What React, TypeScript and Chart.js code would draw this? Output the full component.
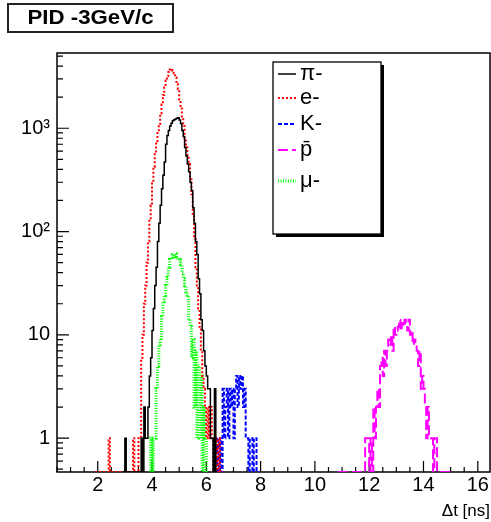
import React, { useEffect, useRef } from 'react';
import { Chart, registerables } from 'chart.js';

Chart.register(...registerables);

// ---------- data ----------
const TITLE = 'PID -3GeV/c';
const X_TITLE = 'Δt [ns]';
const X_MIN = 0.5;
const X_MAX = 16.45;
const Y_MIN = 0.47;
const Y_MAX = 5350;
const X_TICKS = [2, 4, 6, 8, 10, 12, 14, 16];
const Y_TICKS = [1, 10, 100, 1000];
const Y_TICK_LABELS = ['1', '10', '10²', '10³'];
const SERIES_LABELS = ['π-', 'e-', 'K-', 'p\u0304', 'μ-'];

// pi-: bins of 0.05 ns starting at 2.9 ns
const PI_START = 2.9;
const PI_BIN = 0.05;
const PI_RANGE = [2.9, 6.4];
const PI_COUNTS = [0, 0, 1, 0, 0, 0, 0, 0, 0, 0, 0, 0, 0, 0, 1, 0, 2, 1, 1, 2, 4, 6, 11, 18, 30, 45, 80, 120, 180, 260, 350, 470, 700, 850, 950, 1050, 1120, 1180, 1210, 1230, 1250, 1260, 1200, 1110, 950, 830, 650, 540, 450, 380, 300, 250, 170, 120, 80, 60, 35, 25, 14, 11, 7, 5, 4, 3, 3, 1, 1, 0, 3, 0];

// e-: bins of 0.05 ns starting at 2.4 ns
const E_START = 2.4;
const E_BIN = 0.05;
const E_RANGE = [1.9, 6.6];
const E_COUNTS = [1, 0, 0, 0, 0, 0, 0, 0, 0, 0, 0, 0, 0, 0, 0, 0, 0, 0, 1, 0, 0, 0, 1, 1, 6, 10, 20, 30, 50, 80, 130, 180, 300, 420, 560, 750, 900, 1100, 1400, 1700, 2100, 2500, 2900, 3200, 3500, 3700, 3750, 3600, 3400, 3100, 2700, 2400, 1900, 1600, 1300, 1050, 800, 650, 550, 450, 320, 230, 140, 90, 45, 30, 18, 12, 7, 4, 3, 2, 1, 2, 1, 2, 1, 0, 0, 1, 0, 1];

// K-: bins of 0.05 ns starting at 6.4 ns
const K_START = 6.4;
const K_BIN = 0.05;
const K_RANGE = [6.4, 7.95];
const K_COUNTS = [1, 0, 1, 0, 3, 1, 2, 3, 1, 3, 2, 3, 1, 3, 4, 2, 4, 3, 4, 2, 3, 1, 1, 0, 1, 1, 0, 1, 1, 0];

// anti-proton: bins of 0.05 ns starting at 11.8 ns
const PBAR_START = 11.8;
const PBAR_BIN = 0.05;
const PBAR_RANGE = [10.85, 15.05];
const PBAR_COUNTS = [0, 1, 1, 1, 0, 1, 0, 2, 1, 2, 3, 2, 5, 6, 4, 7, 5, 7, 9, 8, 10, 7, 12, 10, 11, 12, 14, 11, 13, 12, 14, 13, 11, 14, 10, 11, 8, 9, 8, 7, 5, 7, 3, 4, 3, 2, 1, 2, 1, 1, 1, 0, 1, 1];

// mu-: bins of 0.05 ns starting at 3.95 ns
const MU_START = 3.95;
const MU_BIN = 0.05;
const MU_RANGE = [3.9, 6.0];
const MU_COUNTS = [1, 0, 1, 1, 3, 5, 8, 9, 15, 21, 24, 30, 36, 45, 54, 56, 60, 57, 61, 55, 54, 53, 48, 40, 35, 30, 26, 24, 14, 12, 6, 9, 2, 7, 1, 5, 1, 4, 0, 2, 1];

// ---------- helpers ----------
function histPoints(start: number, bin: number, counts: number[], range: number[]) {
  const pts: { x: number; y: number }[] = [];
  pts.push({ x: range[0], y: Y_MIN });
  counts.forEach((c, i) => pts.push({ x: start + i * bin, y: c > 0 ? c : Y_MIN }));
  pts.push({ x: start + counts.length * bin, y: Y_MIN });
  pts.push({ x: range[1], y: Y_MIN });
  return pts;
}

const FONT = '"Liberation Sans", Arial, sans-serif';

const rootPlugin = {
  id: 'rootStyle',
  beforeDatasetsDraw(chart: any) {
    const { ctx, chartArea: a, scales } = chart;
    const xs = scales.x;
    const ys = scales.y;
    ctx.save();
    ctx.strokeStyle = '#000';
    ctx.lineWidth = 1.5;
    ctx.strokeRect(a.left, a.top, a.right - a.left, a.bottom - a.top);
    ctx.lineWidth = 1.2;
    ctx.beginPath();
    for (let k = Math.ceil(X_MIN / 0.5); k * 0.5 <= X_MAX; k++) {
      const v = k * 0.5;
      const px = xs.getPixelForValue(v);
      const len = X_TICKS.includes(v) ? 11 : 5;
      ctx.moveTo(px, a.bottom);
      ctx.lineTo(px, a.bottom - len);
    }
    for (let d = -1; d <= 3; d++) {
      for (let m = 1; m <= 9; m++) {
        const v = m * Math.pow(10, d);
        if (v < Y_MIN || v > Y_MAX) continue;
        const py = ys.getPixelForValue(v);
        const len = m === 1 ? 12 : 6;
        ctx.moveTo(a.left, py);
        ctx.lineTo(a.left + len, py);
      }
    }
    ctx.stroke();
    ctx.restore();
  },
  afterDraw(chart: any) {
    const { ctx } = chart;
    ctx.save();
    // title box
    ctx.fillStyle = '#fff';
    ctx.fillRect(8, 4, 165, 28);
    ctx.strokeStyle = '#222';
    ctx.lineWidth = 2;
    ctx.strokeRect(8, 4, 165, 28);
    ctx.fillStyle = '#000';
    ctx.font = `bold 21px ${FONT}`;
    ctx.textBaseline = 'middle';
    ctx.textAlign = 'left';
    const tw = ctx.measureText(TITLE).width;
    const target = 126;
    ctx.save();
    ctx.translate(90.5 - target / 2, 18.5);
    ctx.scale(target / tw, 1);
    ctx.fillText(TITLE, 0, 0);
    ctx.restore();

    // legend box with shadow
    const lx = 273, ly = 62, lw = 108, lh = 172;
    ctx.fillStyle = '#000';
    ctx.fillRect(lx + 3, ly + 3, lw, lh);
    ctx.fillStyle = '#fff';
    ctx.fillRect(lx, ly, lw, lh);
    ctx.strokeStyle = '#000';
    ctx.lineWidth = 1.3;
    ctx.strokeRect(lx, ly, lw, lh);
    const rows = [74, 98, 124, 150, 181];
    chart.data.datasets.forEach((ds: any, i: number) => {
      const y = rows[i];
      ctx.save();
      ctx.strokeStyle = ds.borderColor;
      ctx.lineWidth = ds.borderWidth;
      ctx.setLineDash(ds.borderDash || []);
      ctx.beginPath();
      ctx.moveTo(278, y);
      ctx.lineTo(296, y);
      ctx.stroke();
      ctx.restore();
      ctx.fillStyle = '#000';
      ctx.font = `22px ${FONT}`;
      ctx.textBaseline = 'middle';
      ctx.fillText(ds.label, 300, y);
    });
    ctx.restore();
  },
};

export default function App() {
  const ref = useRef<HTMLCanvasElement>(null);
  useEffect(() => {
    const series = [
      { label: SERIES_LABELS[0], pts: histPoints(PI_START, PI_BIN, PI_COUNTS, PI_RANGE), color: '#000000', width: 1.5, dash: [] },
      { label: SERIES_LABELS[1], pts: histPoints(E_START, E_BIN, E_COUNTS, E_RANGE), color: '#ff0000', width: 2, dash: [2, 2] },
      { label: SERIES_LABELS[2], pts: histPoints(K_START, K_BIN, K_COUNTS, K_RANGE), color: '#0000ff', width: 2, dash: [4, 2] },
      { label: SERIES_LABELS[3], pts: histPoints(PBAR_START, PBAR_BIN, PBAR_COUNTS, PBAR_RANGE), color: '#ff00ff', width: 2, dash: [10, 4] },
      { label: SERIES_LABELS[4], pts: histPoints(MU_START, MU_BIN, MU_COUNTS, MU_RANGE), color: '#00ff00', width: 3, dash: [1, 1.5] },
    ];
    const chart = new Chart(ref.current as HTMLCanvasElement, {
      type: 'line',
      data: {
        datasets: series.map((s) => ({
          label: s.label,
          data: s.pts,
          borderColor: s.color,
          borderWidth: s.width,
          borderDash: s.dash,
          stepped: true,
          pointRadius: 0,
          fill: false,
          tension: 0,
        })),
      },
      options: {
        animation: false,
        responsive: true,
        maintainAspectRatio: false,
        layout: { padding: { top: 53, right: 1, left: 0, bottom: 0 } },
        plugins: { legend: { display: false }, tooltip: { enabled: false }, title: { display: false } },
        scales: {
          x: {
            type: 'linear',
            min: X_MIN,
            max: X_MAX,
            grid: { display: false, drawTicks: false },
            border: { display: false },
            ticks: {
              color: '#000',
              font: { family: FONT, size: 20 },
              padding: 1,
              maxRotation: 0,
              autoSkip: false,
              callback: (v: any) => String(v),
            },
            afterBuildTicks: (s: any) => {
              s.ticks = X_TICKS.map((v) => ({ value: v }));
            },
            title: {
              display: true,
              text: X_TITLE,
              align: 'end',
              color: '#000',
              font: { family: FONT, size: 17 },
              padding: { top: 0, bottom: 0 },
            },
            afterFit: (s: any) => {
              s.height = 50;
            },
          },
          y: {
            type: 'logarithmic',
            min: Y_MIN,
            max: Y_MAX,
            grid: { display: false, drawTicks: false },
            border: { display: false },
            ticks: {
              color: '#000',
              font: { family: FONT, size: 20 },
              padding: 7,
              autoSkip: false,
              callback: (_v: any, i: number) => Y_TICK_LABELS[i],
            },
            afterBuildTicks: (s: any) => {
              s.ticks = Y_TICKS.map((v) => ({ value: v }));
            },
            afterFit: (s: any) => {
              s.width = 57;
            },
          },
        },
      } as any,
      plugins: [rootPlugin],
    });
    return () => chart.destroy();
  }, []);
  return (
    <div style={{ position: 'fixed', left: 0, top: 0, width: 491, height: 522, background: '#fff' }}>
      <canvas ref={ref} />
    </div>
  );
}
